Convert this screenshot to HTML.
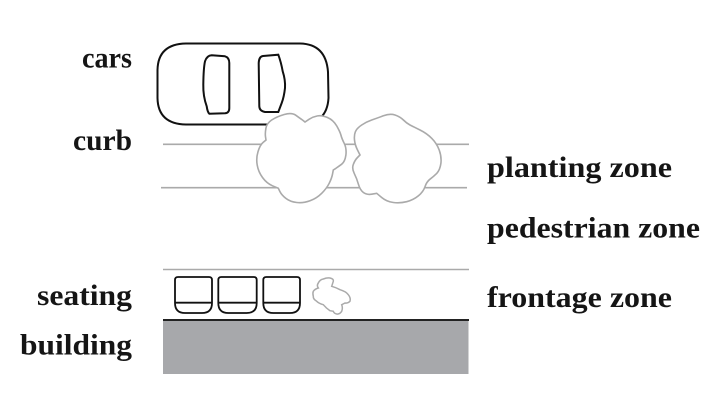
<!DOCTYPE html>
<html>
<head>
<meta charset="utf-8">
<style>
  html, body { margin: 0; padding: 0; background: #ffffff; }
  body { width: 709px; height: 416px; overflow: hidden; }
  svg { display: block; }
  text { font-family: "Liberation Serif", "Times New Roman", Times, serif; font-weight: bold; font-size: 30px; fill: #151515; }
</style>
</head>
<body>
<svg width="709" height="416" viewBox="0 0 709 416" xmlns="http://www.w3.org/2000/svg">
  <rect width="709" height="416" fill="#fff"/>

  <!-- car -->
  <path d="M186,43.5 L300,43.5 Q326,44 328,72 L328.5,98 Q327,124 300,124.5 L186,124.5 Q158,124 157.5,98 L157.5,70 Q158,44 186,43.5 Z"
        fill="#fff" stroke="#111" stroke-width="2"/>
  <path d="M211.7,55.3 L225,56.3 Q229.3,57.5 229.3,63 L229.3,108 Q229.3,113 225,113.3 L209.3,113.7 Q207.5,112 206.7,106.3 Q203,96 203.3,84.7 Q203.5,68 205,61.3 Q207,55.5 211.7,55.3 Z"
        fill="none" stroke="#111" stroke-width="2"/>
  <path d="M263,56 L278.3,54.7 Q281,62 282.7,71.3 Q285.5,80 285,88 Q284,97 281.7,103 L278.3,112 L265,112 Q259.5,111 259.3,106.3 L258.7,63 Q259,56.5 263,56 Z"
        fill="none" stroke="#111" stroke-width="2"/>

  <!-- lines -->
  <line x1="163" y1="144.3" x2="469" y2="144.3" stroke="#aaa" stroke-width="1.6"/>
  <line x1="161" y1="187.7" x2="467" y2="187.7" stroke="#aaa" stroke-width="1.6"/>
  <line x1="163" y1="269.5" x2="469" y2="269.5" stroke="#aaa" stroke-width="1.6"/>

  <!-- tree 1 -->
  <path d="M265.9,128.3 Q266.7,123.3 271.7,120 Q276.7,116.7 284.2,114.5 Q291.7,112.3 295.9,115.3 Q300,118.3 302.5,120 L305,122 L309.2,119.2 Q313.3,116.7 317.5,115.9 Q321.7,115 327.5,117.5 Q333.3,120 336.7,125.9 Q340,131.7 340.9,135 Q341.7,138.3 344.2,143.3 Q346.7,148.3 345.9,155 Q345,161.7 341.7,164.2 Q338.3,166.7 335.8,168.4 L333.3,170 L332.5,174.2 Q331.7,178.3 329.2,183.3 Q326.7,188.3 321.7,193.3 Q316.7,198.3 310,200.8 Q303.3,203.3 296.7,202.5 Q290,201.7 285.9,198.4 Q281.7,195 280,191.7 L278.3,188.3 L272.5,185.8 Q266.7,183.3 262.5,177.5 Q258.3,171.7 257.2,165 Q256,158.3 258,151.7 Q260,145 263,142.5 L266,140 L265.5,136.7 Q265,133.3 265.9,128.3 Z"
        fill="#fff" stroke="#aaa" stroke-width="1.6"/>

  <!-- tree 2 -->
  <path d="M355.4,131.7 Q356.7,128.3 361.7,125 Q366.7,121.7 371.7,120 Q376.7,118.3 383.4,115.8 Q390,113.3 395,115 Q400,116.7 403.4,120 Q406.7,123.3 410,125 Q413.3,126.7 420,130 Q426.7,133.3 431.7,138.3 Q436.7,143.3 439.2,150 Q441.7,156.7 440.9,163.4 Q440,170 436.7,173.4 Q433.3,176.7 430,179.2 Q426.7,181.7 425,186.7 Q423.3,191.7 418.3,195.9 Q413.3,200 406.7,201.7 Q400,203.3 393.4,202.5 Q386.7,201.7 381.7,197.5 L376.7,193.3 L371.7,194.2 Q366.7,195 363.4,192.5 Q360,190 358.4,184.2 Q356.7,178.3 354.2,173.3 Q351.7,168.3 353.4,164.2 Q355,160 357.5,157.5 L360,155 L357.5,150 Q355,145 354.5,140 Q354,135 355.4,131.7 Z"
        fill="#fff" stroke="#aaa" stroke-width="1.6"/>

  <!-- seats -->
  <g fill="none" stroke="#111" stroke-width="1.8">
    <path d="M178,277 L209,277 Q212,277 212,280 L212,303 Q212,313 202,313 L185,313 Q175,313 175,303 L175,280 Q175,277 178,277 Z"/>
    <line x1="175" y1="302.7" x2="212" y2="302.7"/>
    <path d="M221.3,277 L253.7,277 Q256.7,277 256.7,280 L256.7,303 Q256.7,313 246.7,313 L228.3,313 Q218.3,313 218.3,303 L218.3,280 Q218.3,277 221.3,277 Z"/>
    <line x1="218.3" y1="302.7" x2="256.7" y2="302.7"/>
    <path d="M266.3,277 L297,277 Q300,277 300,280 L300,303 Q300,313 290,313 L273.3,313 Q263.3,313 263.3,303 L263.3,280 Q263.3,277 266.3,277 Z"/>
    <line x1="263.3" y1="302.7" x2="300" y2="302.7"/>
  </g>

  <!-- small plant -->
  <path d="M318.3,283 Q320,279.5 323.3,279 Q327,277.5 330,278 Q334,279 333.3,281.3 L331.7,286.3 Q336,287.5 340,289.7 Q346,291.5 348.3,294.7 Q351,298 350,301.3 Q348,303.5 345,303 L341.7,304.7 Q343,308 341.7,311.3 Q339.5,314.5 336.7,314 Q334,313.5 333.3,311.3 L330,310.7 Q326,308 323.3,304.7 Q319,303.5 316.7,301.3 Q313,299 313.3,296.3 Q312.5,293.5 313.3,291.3 Q315,289 318.3,288 Q316.5,285.5 318.3,283 Z"
        fill="#fff" stroke="#aaa" stroke-width="1.5"/>

  <!-- building -->
  <rect x="163" y="320" width="305.5" height="54" fill="#a7a8ab"/>
  <line x1="163" y1="320" x2="469" y2="320" stroke="#222" stroke-width="2"/>

  <!-- left labels -->
  <text x="132" y="67.5" text-anchor="end" textLength="50" lengthAdjust="spacingAndGlyphs">cars</text>
  <text x="132" y="150" text-anchor="end" textLength="59" lengthAdjust="spacingAndGlyphs">curb</text>
  <text x="132" y="305" text-anchor="end" textLength="95" lengthAdjust="spacingAndGlyphs">seating</text>
  <text x="132" y="354.5" text-anchor="end" textLength="112" lengthAdjust="spacingAndGlyphs">building</text>

  <!-- right labels -->
  <text x="487" y="177" textLength="185" lengthAdjust="spacingAndGlyphs">planting zone</text>
  <text x="487" y="237.5" textLength="213" lengthAdjust="spacingAndGlyphs">pedestrian zone</text>
  <text x="487" y="307" textLength="185" lengthAdjust="spacingAndGlyphs">frontage zone</text>
</svg>
</body>
</html>
